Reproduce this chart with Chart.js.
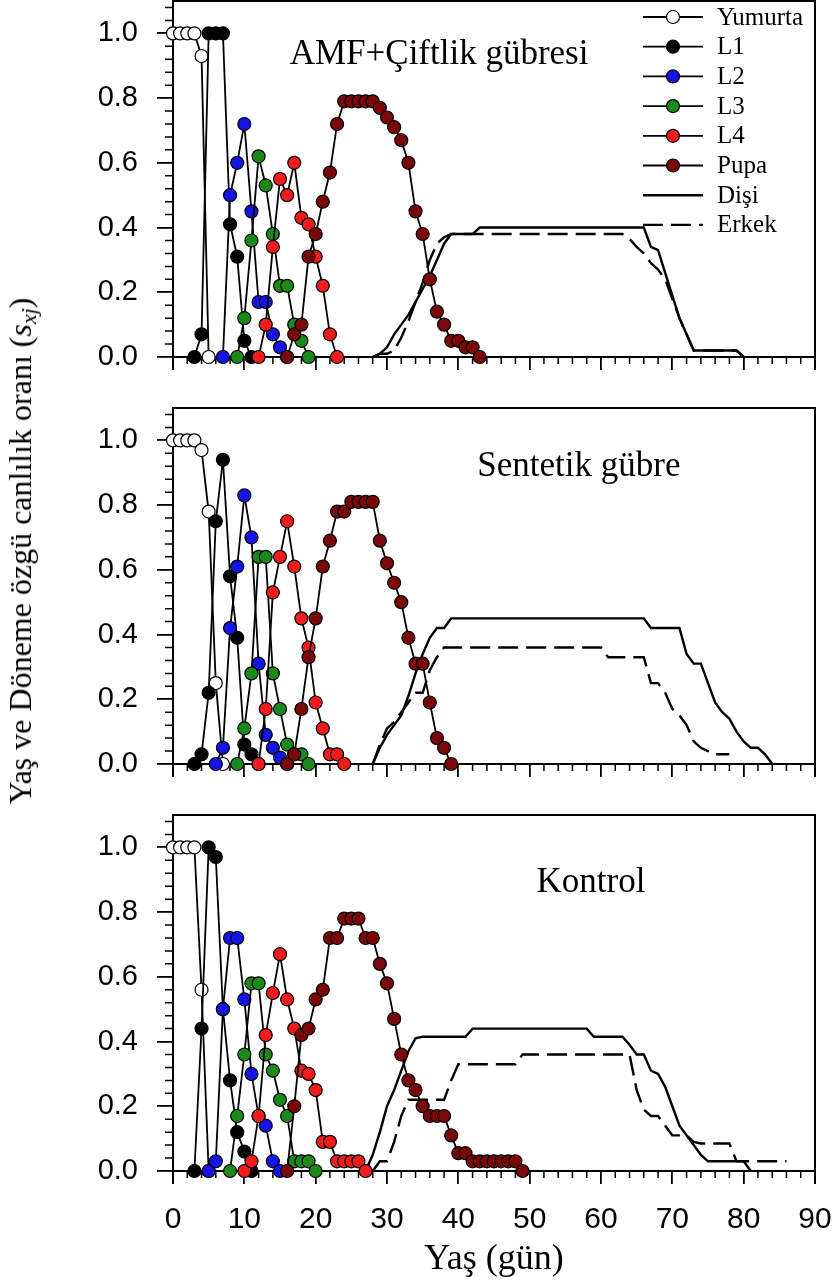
<!DOCTYPE html>
<html>
<head>
<meta charset="utf-8">
<script src="https://cdn.jsdelivr.net/npm/chart.js@4/dist/chart.umd.min.js"></script>
<style>
  body { margin: 0; background: #fff; width: 838px; height: 1286px; position: relative; overflow: hidden; }
  canvas { position: absolute; left: 0; }
  #ylab {
    position: absolute; left: 22px; top: 551px;
    transform: translate(-50%, -50%) rotate(-90deg);
    font-family: "Liberation Serif", serif; font-size: 32px; white-space: nowrap; color: #000;
  }
  #ylab sub { font-size: 22px; vertical-align: -5px; }
</style>
</head>
<body>
<canvas id="c1" width="838" height="380" style="top:0px"></canvas>
<canvas id="c2" width="838" height="380" style="top:407px"></canvas>
<canvas id="c3" width="838" height="472" style="top:814px"></canvas>
<div id="ylab">Yaş ve Döneme özgü canlılık oranı (<i>s</i><sub><i>xj</i></sub>)</div>
<script>
// x ticks (days) and y ticks (proportion)
const xTicks = [0, 10, 20, 30, 40, 50, 60, 70, 80, 90];
const yTicks = [0, 0.2, 0.4, 0.6, 0.8, 1.0];

const seriesNames = ["Yumurta", "L1", "L2", "L3", "L4", "Pupa", "Dişi", "Erkek"];
const panelTitles = ["AMF+Çiftlik gübresi", "Sentetik gübre", "Kontrol"];

// --- AMF + Çiftlik gübresi : [day, value]
const amfYumurta = [[0,1],[1,1],[2,1],[3,1],[4,0.93],[5,0]];
const amfL1 = [[3,0],[4,0.07],[5,1],[6,1],[7,1],[8,0.41],[9,0.31],[10,0.05],[11,0]];
const amfL2 = [[7,0],[8,0.50],[9,0.60],[10,0.72],[11,0.45],[12,0.17],[13,0.17],[14,0.07],[15,0.03],[16,0]];
const amfL3 = [[9,0],[10,0.12],[11,0.36],[12,0.62],[13,0.53],[14,0.38],[15,0.22],[16,0.22],[17,0.10],[18,0.05],[19,0]];
const amfL4 = [[12,0],[13,0.10],[14,0.34],[15,0.55],[16,0.50],[17,0.60],[18,0.43],[19,0.41],[20,0.31],[21,0.22],[22,0.07],[23,0]];
const amfPupa = [[16,0],[17,0.07],[18,0.10],[19,0.31],[20,0.38],[21,0.48],[22,0.57],[23,0.72],[24,0.79],[25,0.79],[26,0.79],[27,0.79],[28,0.79],[29,0.77],[30,0.74],[31,0.71],[32,0.67],[33,0.60],[34,0.45],[35,0.38],[36,0.24],[37,0.14],[38,0.10],[39,0.05],[40,0.05],[41,0.03],[42,0.03],[43,0]];
const amfDisi = [[28,0],[29,0.01],[30,0.03],[31,0.07],[32,0.10],[33,0.13],[34,0.17],[35,0.21],[36,0.25],[37,0.30],[38,0.35],[39,0.38],[42,0.38],[43,0.40],[66,0.40],[67,0.34],[68,0.33],[69,0.26],[70,0.19],[71,0.12],[72,0.07],[73,0.02],[79,0.02],[80,0]];
const amfErkek = [[28,0],[29,0.01],[30,0.01],[31,0.02],[32,0.06],[33,0.11],[34,0.17],[35,0.23],[36,0.30],[37,0.35],[38,0.37],[39,0.38],[63,0.38],[64,0.365],[65,0.34],[66,0.32],[67,0.29],[68,0.27],[69,0.24],[70,0.18],[71,0.12],[72,0.07],[73,0.02],[79,0.02],[80,0]];

// --- Sentetik gübre
const sentYumurta = [[0,1],[1,1],[2,1],[3,1],[4,0.97],[5,0.78],[6,0.25],[7,0]];
const sentL1 = [[3,0],[4,0.03],[5,0.22],[6,0.75],[7,0.94],[8,0.58],[9,0.39],[10,0.06],[11,0.03],[12,0]];
const sentL2 = [[6,0],[7,0.05],[8,0.42],[9,0.61],[10,0.83],[11,0.70],[12,0.31],[13,0.09],[14,0.05],[15,0.02],[16,0]];
const sentL3 = [[9,0],[10,0.11],[11,0.28],[12,0.64],[13,0.64],[14,0.28],[15,0.17],[16,0.06],[17,0.03],[18,0.03],[19,0]];
const sentL4 = [[12,0],[13,0.17],[14,0.53],[15,0.64],[16,0.75],[17,0.61],[18,0.45],[19,0.36],[20,0.19],[21,0.11],[22,0.03],[23,0.03],[24,0]];
const sentPupa = [[16,0],[17,0.03],[18,0.17],[19,0.33],[20,0.45],[21,0.61],[22,0.69],[23,0.78],[24,0.78],[25,0.81],[26,0.81],[27,0.81],[28,0.81],[29,0.69],[30,0.62],[31,0.56],[32,0.50],[33,0.39],[34,0.31],[35,0.31],[36,0.19],[37,0.08],[38,0.05],[39,0]];
const sentDisi = [[28,0],[29,0.05],[30,0.09],[31,0.12],[32,0.15],[33,0.21],[34,0.28],[35,0.34],[36,0.39],[37,0.42],[38,0.42],[39,0.45],[66,0.45],[67,0.42],[71,0.42],[72,0.34],[73,0.31],[74,0.31],[75,0.25],[76,0.19],[77,0.16],[78,0.14],[79,0.10],[80,0.07],[81,0.05],[82,0.05],[83,0.03],[84,0]];
const sentErkek = [[28,0],[29,0.06],[30,0.11],[31,0.13],[32,0.16],[33,0.19],[34,0.22],[35,0.22],[36,0.29],[37,0.33],[38,0.36],[60,0.36],[61,0.33],[66,0.33],[67,0.25],[68,0.25],[69,0.22],[70,0.17],[71,0.15],[72,0.12],[73,0.07],[74,0.05],[75,0.04],[76,0.03],[78,0.03]];

// --- Kontrol
const kontYumurta = [[0,1],[1,1],[2,1],[3,1],[4,0.56],[5,0]];
const kontL1 = [[3,0],[4,0.44],[5,1.0],[6,0.97],[7,0.50],[8,0.28],[9,0.12],[10,0.06],[11,0]];
const kontL2 = [[5,0],[6,0.03],[7,0.50],[8,0.72],[9,0.72],[10,0.53],[11,0.30],[12,0.17],[13,0.14],[14,0.03],[15,0]];
const kontL3 = [[8,0],[9,0.17],[10,0.36],[11,0.58],[12,0.58],[13,0.36],[14,0.31],[15,0.22],[16,0.17],[17,0.03],[18,0.03],[19,0.03],[20,0]];
const kontL4 = [[10,0],[11,0.03],[12,0.17],[13,0.42],[14,0.55],[15,0.67],[16,0.53],[17,0.44],[18,0.31],[19,0.30],[20,0.25],[21,0.09],[22,0.09],[23,0.03],[24,0.03],[25,0.03],[26,0.03],[27,0]];
const kontPupa = [[16,0],[17,0.20],[18,0.42],[19,0.44],[20,0.53],[21,0.56],[22,0.72],[23,0.72],[24,0.78],[25,0.78],[26,0.78],[27,0.72],[28,0.72],[29,0.64],[30,0.58],[31,0.47],[32,0.36],[33,0.28],[34,0.25],[35,0.20],[36,0.17],[37,0.17],[38,0.17],[39,0.11],[40,0.055],[41,0.055],[42,0.03],[43,0.03],[44,0.03],[45,0.03],[46,0.03],[47,0.03],[48,0.03],[49,0]];
const kontDisi = [[27,0],[28,0.05],[29,0.12],[30,0.20],[31,0.25],[32,0.31],[33,0.37],[34,0.41],[35,0.415],[41,0.415],[42,0.44],[58,0.44],[59,0.415],[63,0.415],[64,0.39],[65,0.36],[66,0.36],[67,0.31],[68,0.30],[69,0.26],[70,0.20],[71,0.14],[72,0.11],[73,0.08],[74,0.05],[75,0.03],[80,0.03],[81,0]];
const kontErkek = [[28,0],[29,0.03],[30,0.03],[31,0.09],[32,0.17],[33,0.22],[38,0.22],[39,0.28],[40,0.33],[48,0.33],[49,0.36],[64,0.36],[65,0.25],[66,0.19],[67,0.17],[68,0.17],[69,0.14],[70,0.11],[72,0.11],[73,0.09],[74,0.085],[78,0.085],[79,0.03],[86,0.03]];

// marker fills for the six stages
const stageColors = ["#ffffff", "#000000", "#1414e6", "#1b8a1b", "#f21c1c", "#7a0808"];

Chart.defaults.font.family = "'Liberation Sans', Arial, sans-serif";
Chart.defaults.color = "#000";

const serif = "'Liberation Serif', 'Times New Roman', serif";

function pts(arr) {
  return arr.map(p => ({ x: p[0], y: p[1] }));
}

function stageSet(i, arr) {
  return {
    label: seriesNames[i],
    data: pts(arr),
    borderColor: "#000",
    borderWidth: 1.8,
    pointRadius: 6.5,
    pointBackgroundColor: stageColors[i],
    pointBorderColor: "#000",
    pointBorderWidth: 1.2,
    clip: false
  };
}

function adultSet(i, arr) {
  return {
    label: seriesNames[i],
    data: pts(arr),
    borderColor: "#000",
    borderWidth: 2.4,
    borderDash: i === 7 ? [20, 8] : [],
    pointRadius: 0,
    clip: false
  };
}

// box top/right, axis overhang and minor ticks
const framePlugin = {
  id: "frame",
  beforeDatasetsDraw(chart) {
    const { ctx, chartArea: a, scales: { x, y } } = chart;
    ctx.save();
    ctx.strokeStyle = "#000";
    ctx.lineWidth = 2;
    ctx.beginPath();
    ctx.moveTo(a.left, a.bottom);
    ctx.lineTo(a.left, a.bottom + 13);
    ctx.moveTo(a.left, a.top);
    ctx.lineTo(a.right, a.top);
    ctx.lineTo(a.right, a.bottom + 13);
    ctx.stroke();
    ctx.lineWidth = 1.5;
    ctx.beginPath();
    for (let d = 2; d < 90; d += 2) {
      if (d % 10 === 0) continue;
      const px = x.getPixelForValue(d);
      ctx.moveTo(px, a.bottom);
      ctx.lineTo(px, a.bottom + 7);
    }
    for (let i = 1; i <= 27; i++) {
      if (i % 5 === 0) continue;
      const py = y.getPixelForValue(i * 0.04);
      ctx.moveTo(a.left, py);
      ctx.lineTo(a.left - 8, py);
    }
    ctx.stroke();
    ctx.restore();
  },
  afterDraw(chart, args, opts) {
    const { ctx, chartArea: a, scales: { x, y } } = chart;
    ctx.save();
    ctx.fillStyle = "#000";
    ctx.font = "35px " + serif;
    ctx.textAlign = "center";
    ctx.textBaseline = "alphabetic";
    ctx.fillText(opts.title, x.getPixelForValue(opts.titleAt[0]), y.getPixelForValue(opts.titleAt[1]));

    if (opts.legend) {
      const x0 = a.right - 172, x1 = a.right - 112, xm = (x0 + x1) / 2;
      ctx.font = "25px " + serif;
      ctx.textAlign = "left";
      ctx.textBaseline = "middle";
      seriesNames.forEach((name, i) => {
        const ry = a.top + 16 + i * 29.7;
        ctx.strokeStyle = "#000";
        ctx.lineWidth = i < 6 ? 1.8 : 2.4;
        ctx.setLineDash(i === 7 ? [20, 8] : []);
        ctx.beginPath();
        ctx.moveTo(x0, ry);
        ctx.lineTo(x1, ry);
        ctx.stroke();
        ctx.setLineDash([]);
        if (i < 6) {
          ctx.beginPath();
          ctx.arc(xm, ry, 6.5, 0, Math.PI * 2);
          ctx.fillStyle = stageColors[i];
          ctx.fill();
          ctx.lineWidth = 1.2;
          ctx.stroke();
        }
        ctx.fillStyle = "#000";
        ctx.fillText(name, x1 + 14, ry + 1);
      });
    }
    ctx.restore();
  }
};

function makePanel(id, title, titleAt, series, bottom, legend) {
  const datasets = [
    stageSet(5, series[5]),
    stageSet(4, series[4]),
    stageSet(3, series[3]),
    stageSet(2, series[2]),
    stageSet(1, series[1]),
    stageSet(0, series[0]),
    adultSet(6, series[6]),
    adultSet(7, series[7])
  ];
  return new Chart(document.getElementById(id), {
    type: "line",
    data: { datasets: datasets },
    plugins: [framePlugin],
    options: {
      responsive: false,
      animation: false,
      events: [],
      layout: { autoPadding: false, padding: { top: 1, right: 23, left: 0, bottom: 0 } },
      plugins: {
        legend: { display: false },
        tooltip: { enabled: false },
        frame: { title: title, titleAt: titleAt, legend: legend }
      },
      scales: {
        x: {
          type: "linear",
          min: 0,
          max: 90,
          afterBuildTicks: s => { s.ticks = xTicks.map(v => ({ value: v })); },
          afterFit: s => {
            s.height = bottom ? 115 : 23;
            s.paddingLeft = 0; s.paddingRight = 0; s.paddingTop = 0; s.paddingBottom = 0;
          },
          grid: { drawOnChartArea: false, drawTicks: true, tickLength: 13, color: "#000", lineWidth: 1.8 },
          border: { display: true, color: "#000", width: 2 },
          ticks: { display: bottom, font: { size: 30 }, color: "#000", padding: 18, maxRotation: 0, autoSkip: false },
          title: { display: bottom, text: "Yaş (gün)", font: { family: serif, size: 36 }, color: "#000", padding: { top: 0, bottom: 5 } }
        },
        y: {
          type: "linear",
          min: 0,
          max: 1.1,
          afterBuildTicks: s => { s.ticks = yTicks.map(v => ({ value: v })); },
          afterFit: s => {
            s.width = 173;
            s.paddingLeft = 0; s.paddingRight = 0; s.paddingTop = 0; s.paddingBottom = 0;
          },
          grid: { drawOnChartArea: false, drawTicks: true, tickLength: 16, color: "#000", lineWidth: 1.8 },
          border: { display: true, color: "#000", width: 2 },
          ticks: { font: { size: 29 }, color: "#000", padding: 19, autoSkip: false, callback: v => v.toFixed(1) }
        }
      }
    }
  });
}

makePanel("c1", panelTitles[0], [37.3, 0.905],
  [amfYumurta, amfL1, amfL2, amfL3, amfL4, amfPupa, amfDisi, amfErkek], false, true);
makePanel("c2", panelTitles[1], [56.9, 0.89],
  [sentYumurta, sentL1, sentL2, sentL3, sentL4, sentPupa, sentDisi, sentErkek], false, false);
makePanel("c3", panelTitles[2], [58.6, 0.862],
  [kontYumurta, kontL1, kontL2, kontL3, kontL4, kontPupa, kontDisi, kontErkek], true, false);
</script>
</body>
</html>
